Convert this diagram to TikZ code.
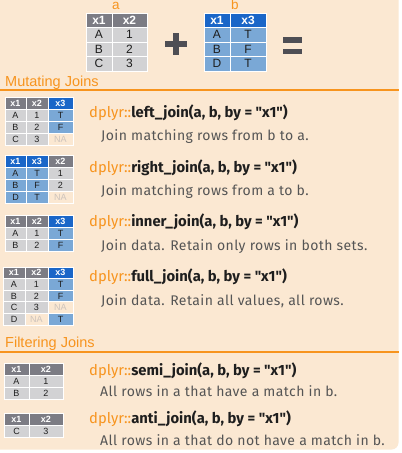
\documentclass[tikz,border=0pt]{standalone}
\usepackage{fontspec}
\setmainfont{Liberation Sans}
\newfontfamily\codefont{Fira Sans}
\newfontfamily\descfont[LetterSpace=3]{Fira Sans}
\usetikzlibrary{positioning}

\definecolor{peach}{RGB}{251,232,210}
\definecolor{dorange}{RGB}{247,148,30}
\definecolor{hdgray}{RGB}{124,124,132}
\definecolor{cellgray}{RGB}{210,210,212}
\definecolor{hdblue}{RGB}{26,102,200}
\definecolor{cellblue}{RGB}{122,168,214}
\definecolor{nagray}{RGB}{205,195,188}
\definecolor{descgray}{RGB}{85,85,85}
\definecolor{titleblack}{RGB}{30,30,30}
\definecolor{opgray}{RGB}{78,78,84}

\tikzset{
  cell/.style={draw=white, line width=0.9pt, inner sep=0pt, outer sep=0pt, text=titleblack},
  bigt/.style={minimum height=14.5pt, font=\fontsize{12}{12}\selectfont},
  smallt/.style={minimum height=#1, font=\fontsize{9}{9}\selectfont},
  smallt/.default=12pt,
  hg/.style={fill=hdgray, text=white, execute at begin node=\bfseries},
  hb/.style={fill=hdblue, text=white, execute at begin node=\bfseries},
  cg/.style={fill=cellgray},
  cb/.style={fill=cellblue},
  na/.style={fill=peach, text=nagray},
  lab/.style={anchor=base, inner sep=0pt, text=dorange, font=\fontsize{13.5}{13.5}\selectfont},
  sect/.style={anchor=base west, inner sep=0pt, text=dorange, font=\fontsize{14.5}{14.5}\selectfont},
  fn/.style={anchor=base west, inner sep=0pt, text=titleblack, font=\codefont\fontsize{14.8}{14.8}\selectfont\bfseries},
  desc/.style={anchor=base west, inner sep=0pt, text=descgray, font=\descfont\fontsize{14}{14}\selectfont}
}

% one table row: name, place of first cell, list of style/width/text
\newcommand{\tabrow}[3]{%
  \foreach \st/\cw/\tx [count=\i] in {#3} {%
    \ifnum\i=1
      \node[cell, \st, minimum width=\cw, #2] (#1-1) {\tx};
    \else
      \pgfmathtruncatemacro{\j}{\i-1}%
      \node[cell, \st, minimum width=\cw, right=0pt of #1-\j] (#1-\i) {\tx};
    \fi}}
\newcommand{\pkg}{{\mdseries\color{dorange}dplyr::}}

\begin{document}
\begin{tikzpicture}[x=1pt, y=-1pt]
\useasboundingbox (0,0) rectangle (402,453);
\fill[white] (0,0) rectangle (402,453);
\fill[peach, rounded corners=7pt] (-10,-10) rectangle (398.5,449.5);

% a + b =
\node[lab] (alab) at (116,9.5) {a};
\node[lab] (blab) at (235,9.5) {b};
\begin{scope}[every node/.append style={bigt}]
  \tabrow{ta0}{anchor=north west, at={(86,13)}}{hg/26pt/x1, hg/35pt/x2}
  \tabrow{ta1}{below=0pt of ta0-1}{cg/26pt/A, cg/35pt/1}
  \tabrow{ta2}{below=0pt of ta1-1}{cg/26pt/B, cg/35pt/2}
  \tabrow{ta3}{below=0pt of ta2-1}{cg/26pt/C, cg/35pt/3}
  \tabrow{tb0}{anchor=north west, at={(204,13)}}{hb/26pt/x1, hb/36pt/x3}
  \tabrow{tb1}{below=0pt of tb0-1}{cb/26pt/A, cb/36pt/T}
  \tabrow{tb2}{below=0pt of tb1-1}{cb/26pt/B, cb/36pt/F}
  \tabrow{tb3}{below=0pt of tb2-1}{cb/26pt/D, cb/36pt/T}
\end{scope}
\draw[opgray, line width=6pt] (165,44) -- (187,44) (176,33) -- (176,55);
\draw[opgray, line width=5.5pt] (283,40) -- (302,40) (283,51.5) -- (302,51.5);

% mutating joins
\node[sect] (mut) at (5,86.5) {Mutating Joins};
\draw[dorange, line width=1.2pt] (0,90) -- (399,90);

\begin{scope}[every node/.append style={smallt}]
  \tabrow{lj0}{anchor=north west, at={(5,97)}}{hg/21pt/x1, hg/22pt/x2, hb/25pt/x3}
  \tabrow{lj1}{below=0pt of lj0-1}{cg/21pt/A, cg/22pt/1, cb/25pt/T}
  \tabrow{lj2}{below=0pt of lj1-1}{cg/21pt/B, cg/22pt/2, cb/25pt/F}
  \tabrow{lj3}{below=0pt of lj2-1}{cg/21pt/C, cg/22pt/3, na/25pt/NA}

  \tabrow{rj0}{anchor=north west, at={(5,155)}}{hb/21pt/x1, hb/22pt/x3, hg/25pt/x2}
  \tabrow{rj1}{below=0pt of rj0-1}{cb/21pt/A, cb/22pt/T, cg/25pt/1}
  \tabrow{rj2}{below=0pt of rj1-1}{cb/21pt/B, cb/22pt/F, cg/25pt/2}
  \tabrow{rj3}{below=0pt of rj2-1}{cb/21pt/D, cb/22pt/T, na/25pt/NA}

  \tabrow{ij0}{anchor=north west, at={(5,215)}}{hg/21pt/x1, hg/22pt/x2, hb/25pt/x3}
  \tabrow{ij1}{below=0pt of ij0-1}{cg/21pt/A, cg/22pt/1, cb/25pt/T}
  \tabrow{ij2}{below=0pt of ij1-1}{cg/21pt/B, cg/22pt/2, cb/25pt/F}
\end{scope}
\begin{scope}[every node/.append style={smallt=11.6pt}]
  \tabrow{fj0}{anchor=north west, at={(3,267)}}{hg/22pt/x1, hg/23pt/x2, hb/25pt/x3}
  \tabrow{fj1}{below=0pt of fj0-1}{cg/22pt/A, cg/23pt/1, cb/25pt/T}
  \tabrow{fj2}{below=0pt of fj1-1}{cg/22pt/B, cg/23pt/2, cb/25pt/F}
  \tabrow{fj3}{below=0pt of fj2-1}{cg/22pt/C, cg/23pt/3, na/25pt/NA}
  \tabrow{fj4}{below=0pt of fj3-1}{cg/22pt/D, na/23pt/NA, cb/25pt/T}
\end{scope}

\node[fn] (ljfn) at (89,117) {\pkg left\_join(a, b, by = "x1")};
\node[desc] (ljd) at (101,140) {Join matching rows from b to a.};
\node[fn] (rjfn) at (89,172) {\pkg right\_join(a, b, by = "x1")};
\node[desc] (rjd) at (101,195) {Join matching rows from a to b.};
\node[fn] (ijfn) at (89,226.5) {\pkg inner\_join(a, b, by = "x1")};
\node[desc] (ijd) at (101,250) {Join data. Retain only rows in both sets.};
\node[fn] (fjfn) at (89,281.5) {\pkg full\_join(a, b, by = "x1")};
\node[desc] (fjd) at (101,305) {Join data. Retain all values, all rows.};

% filtering joins
\node[sect] (filt) at (5,347) {Filtering Joins};
\draw[dorange, line width=1.2pt] (0,352) -- (399,352);

\begin{scope}[every node/.append style={smallt=12.3pt}]
  \tabrow{sj0}{anchor=north west, at={(4,363)}}{hg/25pt/x1, hg/34pt/x2}
  \tabrow{sj1}{below=0pt of sj0-1}{cg/25pt/A, cg/34pt/1}
  \tabrow{sj2}{below=0pt of sj1-1}{cg/25pt/B, cg/34pt/2}
  \tabrow{aj0}{anchor=north west, at={(4,413)}}{hg/25pt/x1, hg/34pt/x2}
  \tabrow{aj1}{below=0pt of aj0-1}{cg/25pt/C, cg/34pt/3}
\end{scope}

\node[fn] (sjfn) at (89,375) {\pkg semi\_join(a, b, by = "x1")};
\node[desc] (sjd) at (100,396.5) {All rows in a that have a match in b.};
\node[fn] (ajfn) at (89,423) {\pkg anti\_join(a, b, by = "x1")};
\node[desc] (ajd) at (100,445) {All rows in a that do not have a match in b.};
\end{tikzpicture}
\end{document}
